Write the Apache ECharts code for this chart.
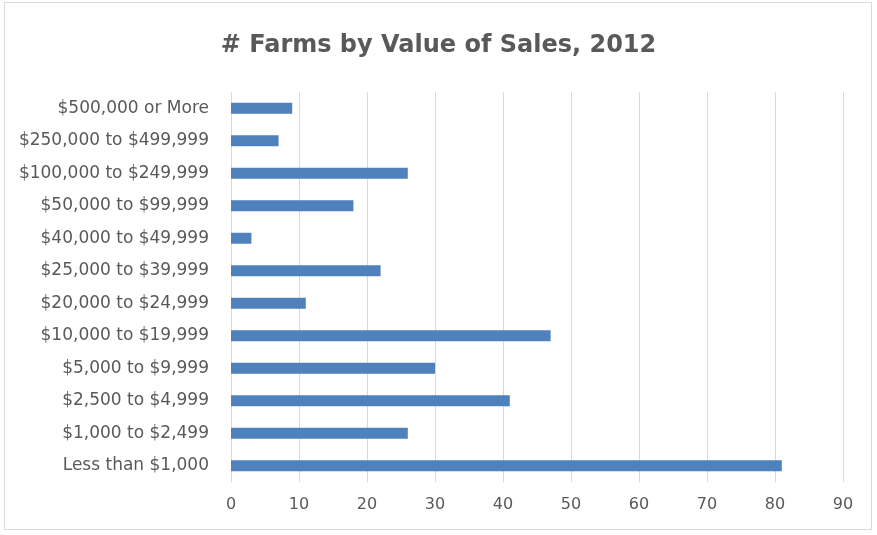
<!DOCTYPE html>
<html>
<head>
<meta charset="utf-8">
<script src="https://cdn.jsdelivr.net/npm/echarts@6/dist/echarts.min.js"></script>
<style>
  html, body { margin: 0; padding: 0; background: #ffffff; }
  #chart { width: 877px; height: 535px; }
</style>
</head>
<body>
<div id="chart"></div>
<script>
// Sales classes, listed bottom to top as they appear on the category axis
const categories = [
  'Less than $1,000',
  '$1,000 to $2,499',
  '$2,500 to $4,999',
  '$5,000 to $9,999',
  '$10,000 to $19,999',
  '$20,000 to $24,999',
  '$25,000 to $39,999',
  '$40,000 to $49,999',
  '$50,000 to $99,999',
  '$100,000 to $249,999',
  '$250,000 to $499,999',
  '$500,000 or More'
];
// Number of farms in each sales class
const farms = [81, 26, 41, 30, 47, 11, 22, 3, 18, 26, 7, 9];
// Value axis ticks
const xTicks = [0, 10, 20, 30, 40, 50, 60, 70, 80, 90];

const chart = echarts.init(document.getElementById('chart'));
chart.setOption({
  backgroundColor: '#ffffff',
  animation: false,
  title: {
    text: '# Farms by Value of Sales, 2012',
    left: 'center',
    top: 29,
    textStyle: {
      fontFamily: 'DejaVu Sans',
      fontWeight: 'bold',
      fontSize: 24,
      color: '#595959'
    }
  },
  graphic: [{
    type: 'rect',
    shape: { x: 4.5, y: 2.5, width: 867, height: 527 },
    style: { fill: 'none', stroke: '#d9d9d9', lineWidth: 1 },
    silent: true
  }],
  grid: { left: 231, right: 34, top: 92, bottom: 53 },
  xAxis: {
    type: 'value',
    min: xTicks[0],
    max: xTicks[xTicks.length - 1],
    interval: 10,
    axisLine: { show: false },
    axisTick: { show: false },
    splitLine: { show: true, lineStyle: { color: '#d9d9d9', width: 1 } },
    axisLabel: {
      margin: 15,
      fontFamily: 'DejaVu Sans',
      fontSize: 16,
      color: '#595959'
    }
  },
  yAxis: {
    type: 'category',
    data: categories,
    axisLine: { show: false },
    axisTick: { show: false },
    axisLabel: {
      margin: 22,
      fontFamily: 'DejaVu Sans',
      fontSize: 17,
      color: '#595959'
    }
  },
  series: [{
    type: 'bar',
    data: farms,
    barWidth: 11,
    itemStyle: { color: '#4f81bd' }
  }]
});
</script>
</body>
</html>
